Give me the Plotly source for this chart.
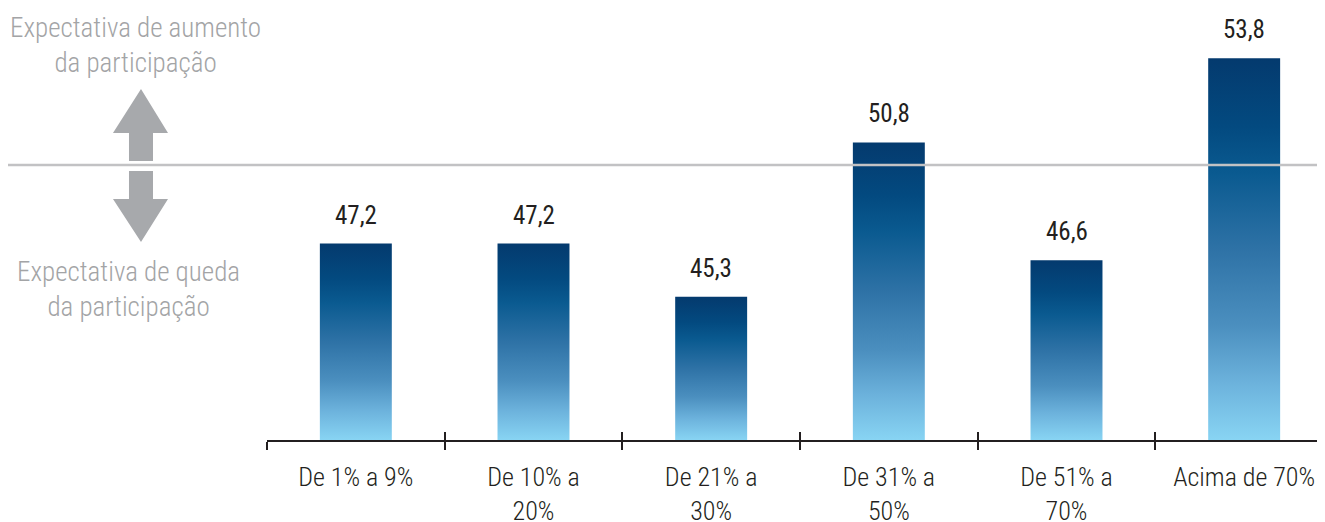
import plotly.graph_objects as go

categories = ["De 1% a 9%", "De 10% a<br>20%", "De 21% a<br>30%", "De 31% a<br>50%", "De 51% a<br>70%", "Acima de 70%"]
values = [47.2, 47.2, 45.3, 50.8, 46.6, 53.8]
value_labels = ["47,2", "47,2", "45,3", "50,8", "46,6", "53,8"]
reference_level = 50
text_up = "Expectativa de aumento<br>da participação"
text_down = "Expectativa de queda<br>da participação"

FONT = "Liberation Sans Narrow, Roboto Condensed, DejaVu Sans Condensed, Arial Narrow, sans-serif"
W, H = 1325, 522
OFF = 8  # page offset of the plot div
ML, MR, MT, MB = 259, 0, 2, 90
Y0, Y1 = 40.2, 55.52
X0, X1 = -0.5, 5.5
BAR_W = 0.405

colorscale = [[0.0, "#88d4f3"], [0.15, "#6cb2dc"], [0.3, "#4b8fbf"], [0.5, "#2e72a6"],
              [0.7, "#0a5a90"], [0.82, "#034a80"], [1.0, "#043a6e"]]

fig = go.Figure()
for i, v in enumerate(values):
    xs = [i - BAR_W / 2, i + BAR_W / 2, i + BAR_W / 2, i - BAR_W / 2, i - BAR_W / 2]
    ys = [Y0, Y0, v, v, Y0]
    fig.add_trace(go.Scatter(
        x=xs, y=ys, mode="lines", fill="toself",
        line=dict(width=0, color="rgba(0,0,0,0)"),
        fillgradient=dict(type="vertical", colorscale=colorscale),
        hoverinfo="skip", showlegend=False,
    ))
    fig.add_annotation(x=i, y=v, text=value_labels[i], showarrow=False,
                       yanchor="bottom", yshift=12,
                       font=dict(family=FONT, size=25, color="#231f20", weight=400))

# invisible trace for overlay axis
fig.add_trace(go.Scatter(x=[None], y=[None], xaxis="x2", showlegend=False, hoverinfo="skip"))

pw = W - ML - MR
ph = H - MT - MB


def px(x):
    return (x - OFF - ML) / pw


def py(y):
    return (H - MB - (y - OFF)) / ph


def poly(points):
    return "M " + " L ".join(f"{px(a):.5f},{py(b):.5f}" for a, b in points) + " Z"


arrow_color = "#a7a9ac"
up = [(141, 89), (168, 133), (153, 133), (153, 161), (129, 161), (129, 133), (113, 133)]
down = [(129, 171), (153, 171), (153, 199), (168, 199), (141, 242), (113, 199), (129, 199)]
for pts in (up, down):
    fig.add_shape(type="path", path=poly(pts), xref="paper", yref="paper",
                  fillcolor=arrow_color, line=dict(width=0), layer="above")

fig.add_shape(type="line", xref="paper", yref="y", x0=px(8), x1=1, y0=reference_level, y1=reference_level,
              line=dict(color="#c2c2c4", width=2.5), layer="above")

fig.add_annotation(xref="paper", yref="paper", x=px(135), y=py(45), text=text_up, showarrow=False,
                   xanchor="center", yanchor="middle", align="center",
                   font=dict(family=FONT, size=27, color="#a3a4a6", weight=300))
fig.add_annotation(xref="paper", yref="paper", x=px(128), y=py(289), text=text_down, showarrow=False,
                   xanchor="center", yanchor="middle", align="center",
                   font=dict(family=FONT, size=27, color="#a3a4a6", weight=300))

boundaries = [k - 0.5 for k in range(len(categories) + 1)]
fig.update_layout(
    width=W, height=H,
    margin=dict(l=ML, r=MR, t=MT, b=MB, pad=0, autoexpand=False),
    plot_bgcolor="white", paper_bgcolor="white",
    showlegend=False,
    xaxis=dict(range=[X0, X1], tickmode="array", tickvals=list(range(len(categories))),
               ticktext=categories, ticks="", ticklabelstandoff=13, automargin=False,
               showline=True, linecolor="#231f20", linewidth=1.5,
               showgrid=False, zeroline=False,
               tickfont=dict(family=FONT, size=26, color="#231f20", weight=300),
               minor=dict(tickmode="array", tickvals=boundaries, ticks="outside",
                          ticklen=8, tickwidth=1.5, tickcolor="#231f20", showgrid=False)),
    xaxis2=dict(range=[X0, X1], overlaying="x", anchor="y", side="bottom", automargin=False,
                tickmode="array", tickvals=boundaries, ticks="inside", ticklen=8,
                tickwidth=1.5, tickcolor="#231f20", showticklabels=False,
                showline=False, showgrid=False, zeroline=False),
    yaxis=dict(range=[Y0, Y1], visible=False, showgrid=False, zeroline=False, automargin=False),
)

fig.write_html("out.html")
